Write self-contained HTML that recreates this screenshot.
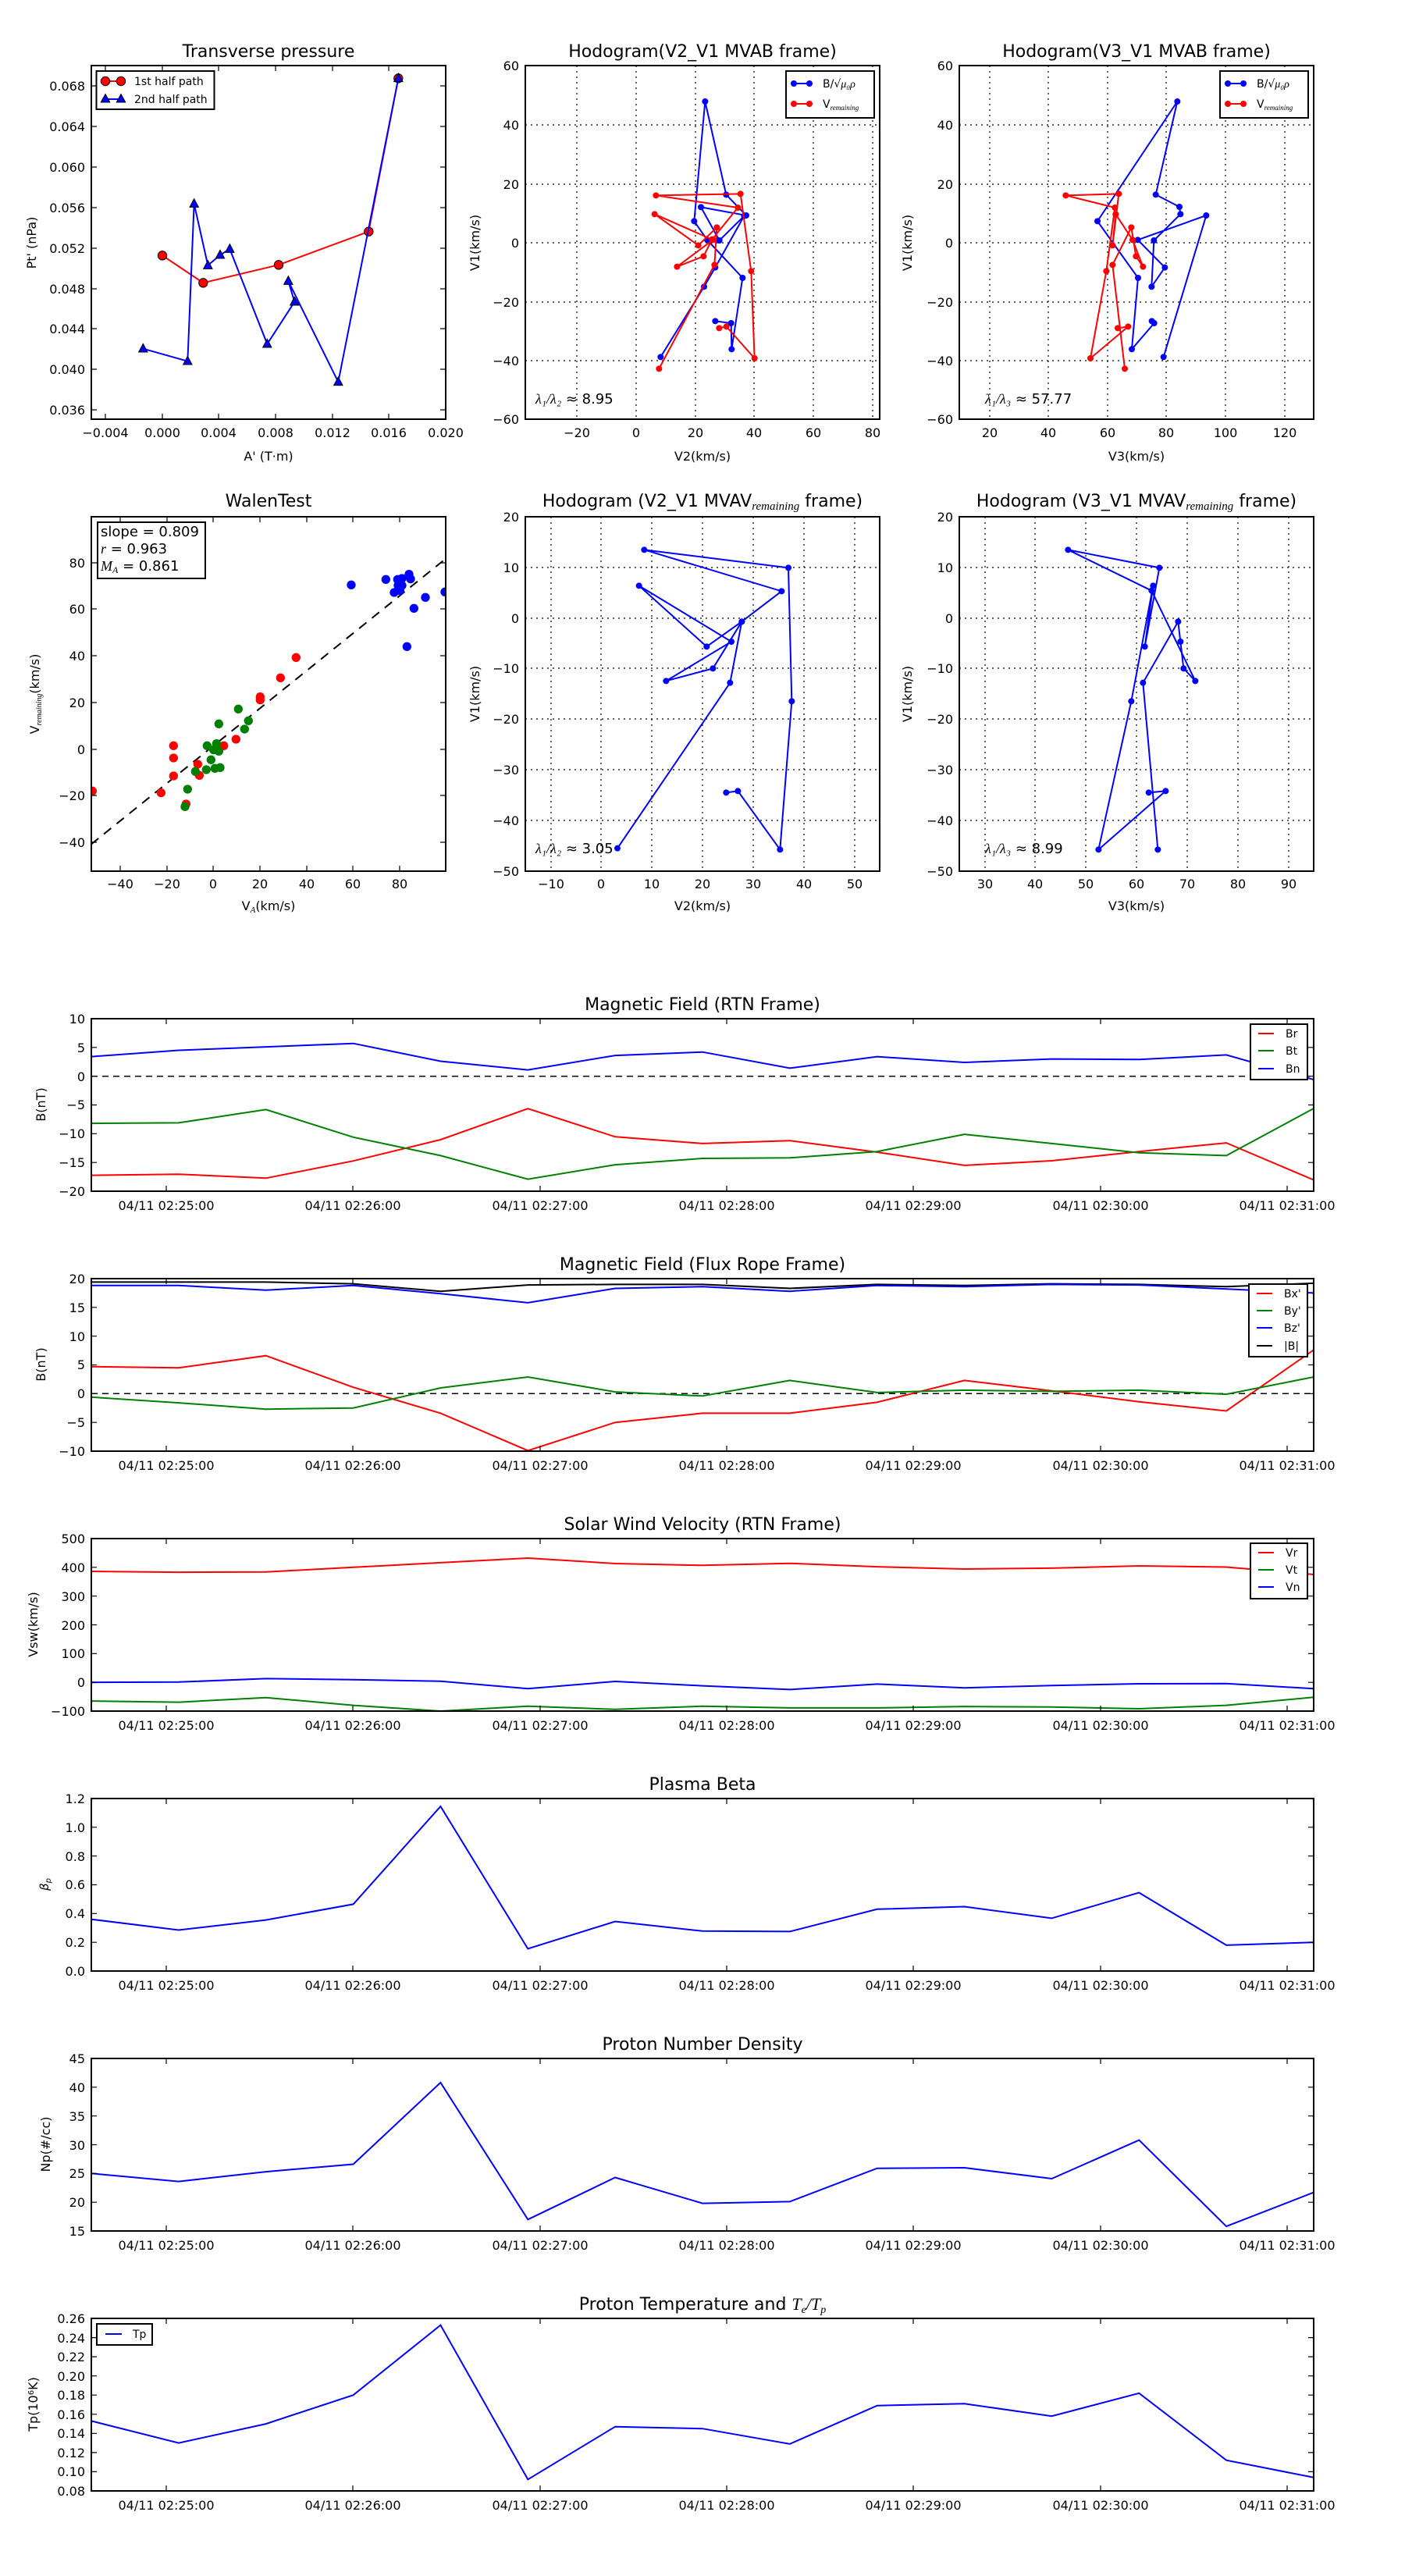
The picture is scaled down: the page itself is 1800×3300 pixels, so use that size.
<!DOCTYPE html>
<html><head><meta charset="utf-8"><style>
html,body{margin:0;padding:0;background:#fff}
svg{display:block}
text{font-family:"DejaVu Sans","Liberation Sans",sans-serif;fill:#000}
.t{font-size:22px;text-anchor:middle}
.k{font-size:16px}
.kx{font-size:16px;text-anchor:middle}
.ky{font-size:16px;text-anchor:end}
.lg{font-size:14px}
.ax{fill:none;stroke:#000;stroke-width:2}
.tk{stroke:#000;stroke-width:1.2}
.gr{stroke:#000;stroke-width:1.2;stroke-dasharray:2,5}
</style></head><body>
<svg width="1800" height="3300" viewBox="0 0 1800 3300" xmlns="http://www.w3.org/2000/svg">
<defs>
<marker id="cb" viewBox="-15 -15 30 30" markerWidth="30" markerHeight="30" markerUnits="userSpaceOnUse"><circle r="12" fill="#0000ff"/></marker>
<marker id="cr" viewBox="-15 -15 30 30" markerWidth="30" markerHeight="30" markerUnits="userSpaceOnUse"><circle r="12" fill="#ff0000"/></marker>
<marker id="bc" viewBox="-22 -22 44 44" markerWidth="44" markerHeight="44" markerUnits="userSpaceOnUse"><circle r="17" fill="#ff0000" stroke="#000" stroke-width="3"/></marker>
<marker id="bt" viewBox="-22 -22 44 44" markerWidth="44" markerHeight="44" markerUnits="userSpaceOnUse"><path d="M0,-19 L17,13 L-17,13 Z" fill="#0000ff" stroke="#000" stroke-width="3"/></marker>
<clipPath id="c1"><rect x="50" y="72" width="1362" height="1360"/></clipPath>
<clipPath id="c2"><rect x="38" y="72" width="1362" height="1360"/></clipPath>
<clipPath id="c3"><rect x="26" y="72" width="1362" height="1360"/></clipPath>
<clipPath id="c4"><rect x="50" y="66" width="1362" height="1362"/></clipPath>
<clipPath id="c5"><rect x="38" y="66" width="1362" height="1362"/></clipPath>
<clipPath id="c6"><rect x="26" y="66" width="1362" height="1362"/></clipPath>
<clipPath id="ts"><rect x="117" y="0" width="1566" height="3300"/></clipPath>
</defs>

<!-- ============ TL Transverse pressure ============ -->
<text class="t" x="344" y="73">Transverse pressure</text>
<g transform="translate(100,60) scale(0.33333)" clip-path="url(#c1)">
<polyline fill="none" stroke="#ff0000" stroke-width="6" marker-start="url(#bc)" marker-mid="url(#bc)" marker-end="url(#bc)" points="324,802 481,907 771,838 1117,710 1231,121"/>
<polyline fill="none" stroke="#0000ff" stroke-width="6" marker-start="url(#bt)" marker-mid="url(#bt)" marker-end="url(#bt)" points="250,1160 421,1208 446,603 499,840 546,800 583,777 727,1142 832,980 808,900 1000,1288 1231,121"/>
</g>
<rect class="ax" x="117" y="84" width="454" height="453"/>
<g class="tk">
<path d="M117,110h7M117,162h7M117,214h7M117,266h7M117,318h7M117,370h7M117,421h7M117,473h7M117,525h7"/>
<path d="M571,110h-7M571,162h-7M571,214h-7M571,266h-7M571,318h-7M571,370h-7M571,421h-7M571,473h-7M571,525h-7"/>
<path d="M135,537v-7M208,537v-7M280,537v-7M353,537v-7M426,537v-7M498,537v-7M571,537v-7"/>
<path d="M135,84v7M208,84v7M280,84v7M353,84v7M426,84v7M498,84v7"/>
</g>
<g class="ky"><text x="109" y="116">0.068</text><text x="109" y="168">0.064</text><text x="109" y="220">0.060</text><text x="109" y="272">0.056</text><text x="109" y="324">0.052</text><text x="109" y="376">0.048</text><text x="109" y="427">0.044</text><text x="109" y="479">0.040</text><text x="109" y="531">0.036</text></g>
<g class="kx"><text x="135" y="560">−0.004</text><text x="208" y="560">0.000</text><text x="280" y="560">0.004</text><text x="353" y="560">0.008</text><text x="426" y="560">0.012</text><text x="498" y="560">0.016</text><text x="571" y="560">0.020</text></g>
<text class="kx" x="344" y="590">A' (T·m)</text>
<text class="k" transform="translate(46,311) rotate(-90)" text-anchor="middle">Pt' (nPa)</text>
<rect x="123.5" y="91" width="151" height="49" fill="#fff" stroke="#000" stroke-width="2"/>
<line x1="135" y1="104" x2="155" y2="104" stroke="#ff0000" stroke-width="2"/>
<circle cx="135" cy="104" r="5.7" fill="#ff0000" stroke="#000"/><circle cx="155" cy="104" r="5.7" fill="#ff0000" stroke="#000"/>
<line x1="135" y1="127" x2="155" y2="127" stroke="#0000ff" stroke-width="2"/>
<path d="M135,120.5l5.7,10.5h-11.4z M155,120.5l5.7,10.5h-11.4z" fill="#0000ff" stroke="#000"/>
<text class="lg" x="172" y="109">1st half path</text>
<text class="lg" x="172" y="132">2nd half path</text>

<!-- ============ TM Hodogram V2_V1 ============ -->
<text class="t" x="900" y="73">Hodogram(V2_V1 MVAB frame)</text>
<g class="gr"><path d="M739,84V537M815,84V537M891,84V537M966,84V537M1042,84V537M1118,84V537M673,160H1127M673,236H1127M673,311H1127M673,387H1127M673,462H1127"/></g>
<g transform="translate(660,60) scale(0.33333)" clip-path="url(#c2)">
<polyline fill="none" stroke="#0000ff" stroke-width="6" marker-start="url(#cb)" marker-mid="url(#cb)" marker-end="url(#cb)" points="769,1054 830,1062 832,1162 874,888 738,742 688,670 730,210 811,568 888,648 714,616 785,744 880,650 769,848 726,922 559,1192"/>
<polyline fill="none" stroke="#ff0000" stroke-width="6" marker-start="url(#cr)" marker-mid="url(#cr)" marker-end="url(#cr)" points="553,1237 766,838 775,694 704,763 536,643 760,742 622,845 724,805 757,740 856,618 541,571 866,565 907,862 920,1197 812,1075 784,1081"/>
</g>
<rect class="ax" x="673" y="84" width="454" height="453"/>
<g class="ky"><text x="665" y="90">60</text><text x="665" y="166">40</text><text x="665" y="242">20</text><text x="665" y="317">0</text><text x="665" y="393">−20</text><text x="665" y="468">−40</text><text x="665" y="543">−60</text></g>
<g class="kx"><text x="739" y="560">−20</text><text x="815" y="560">0</text><text x="891" y="560">20</text><text x="966" y="560">40</text><text x="1042" y="560">60</text><text x="1118" y="560">80</text></g>
<text class="kx" x="900" y="590">V2(km/s)</text>
<text class="k" transform="translate(614,311) rotate(-90)" text-anchor="middle">V1(km/s)</text>
<rect x="1007" y="91" width="113" height="60" fill="#fff" stroke="#000" stroke-width="2"/>
<line x1="1017" y1="107" x2="1037" y2="107" stroke="#0000ff" stroke-width="2"/><circle cx="1017" cy="107" r="4" fill="#0000ff"/><circle cx="1037" cy="107" r="4" fill="#0000ff"/>
<line x1="1017" y1="133" x2="1037" y2="133" stroke="#ff0000" stroke-width="2"/><circle cx="1017" cy="133" r="4" fill="#ff0000"/><circle cx="1037" cy="133" r="4" fill="#ff0000"/>
<text class="lg" x="1054" y="112">B/√<tspan font-style="italic" font-family="Liberation Serif">μ₀ρ</tspan></text>
<text class="lg" x="1054" y="138">V<tspan font-size="9" font-style="italic" font-family="Liberation Serif" dy="3">remaining</tspan></text>
<text x="686" y="517" font-size="18"><tspan font-style="italic" font-family="Liberation Serif">λ₁/λ₂</tspan> ≈ 8.95</text>

<!-- ============ TR Hodogram V3_V1 ============ -->
<text class="t" x="1456" y="73">Hodogram(V3_V1 MVAB frame)</text>
<g class="gr"><path d="M1268,84V537M1343,84V537M1419,84V537M1494,84V537M1570,84V537M1646,84V537M1229,160H1683M1229,236H1683M1229,311H1683M1229,387H1683M1229,462H1683"/></g>
<g transform="translate(1220,60) scale(0.33333)" clip-path="url(#c3)">
<polyline fill="none" stroke="#0000ff" stroke-width="6" marker-start="url(#cb)" marker-mid="url(#cb)" marker-end="url(#cb)" points="767,1054 776,1062 690,1162 714,888 558,670 865,210 782,568 873,615 877,643 775,744 766,922 817,848 713,742 976,648 812,1192"/>
<polyline fill="none" stroke="#ff0000" stroke-width="6" marker-start="url(#cr)" marker-mid="url(#cr)" marker-end="url(#cr)" points="636,1081 676,1075 531,1197 592,862 625,618 436,571 640,565 616,763 628,643 693,742 733,845 706,805 688,694 616,838 663,1237"/>
</g>
<rect class="ax" x="1229" y="84" width="454" height="453"/>
<g class="ky"><text x="1221" y="90">60</text><text x="1221" y="166">40</text><text x="1221" y="242">20</text><text x="1221" y="317">0</text><text x="1221" y="393">−20</text><text x="1221" y="468">−40</text><text x="1221" y="543">−60</text></g>
<g class="kx"><text x="1268" y="560">20</text><text x="1343" y="560">40</text><text x="1419" y="560">60</text><text x="1494" y="560">80</text><text x="1570" y="560">100</text><text x="1646" y="560">120</text></g>
<text class="kx" x="1456" y="590">V3(km/s)</text>
<text class="k" transform="translate(1168,311) rotate(-90)" text-anchor="middle">V1(km/s)</text>
<rect x="1563" y="91" width="113" height="60" fill="#fff" stroke="#000" stroke-width="2"/>
<line x1="1573" y1="107" x2="1593" y2="107" stroke="#0000ff" stroke-width="2"/><circle cx="1573" cy="107" r="4" fill="#0000ff"/><circle cx="1593" cy="107" r="4" fill="#0000ff"/>
<line x1="1573" y1="133" x2="1593" y2="133" stroke="#ff0000" stroke-width="2"/><circle cx="1573" cy="133" r="4" fill="#ff0000"/><circle cx="1593" cy="133" r="4" fill="#ff0000"/>
<text class="lg" x="1610" y="112">B/√<tspan font-style="italic" font-family="Liberation Serif">μ₀ρ</tspan></text>
<text class="lg" x="1610" y="138">V<tspan font-size="9" font-style="italic" font-family="Liberation Serif" dy="3">remaining</tspan></text>
<text x="1262" y="517" font-size="18"><tspan font-style="italic" font-family="Liberation Serif">λ₁/λ₃</tspan> ≈ 57.77</text>

<!-- ============ ML WalenTest ============ -->
<text class="t" x="344" y="649">WalenTest</text>
<g transform="translate(100,640) scale(0.33333)" clip-path="url(#c4)">
<line x1="50" y1="1325" x2="1412" y2="228" stroke="#000" stroke-width="6" stroke-dasharray="36,27"/>
<g fill="#ff0000"><circle cx="55" cy="1120" r="17"/><circle cx="319" cy="1127" r="17"/><circle cx="367" cy="946" r="17"/><circle cx="367" cy="993" r="17"/><circle cx="367" cy="1062" r="17"/><circle cx="415" cy="1170" r="17"/><circle cx="460" cy="1017" r="17"/><circle cx="466" cy="1060" r="17"/><circle cx="560" cy="946" r="17"/><circle cx="607" cy="921" r="17"/><circle cx="700" cy="758" r="17"/><circle cx="700" cy="770" r="17"/><circle cx="778" cy="685" r="17"/><circle cx="838" cy="607" r="17"/></g>
<g fill="#008000"><circle cx="411" cy="1180" r="17"/><circle cx="421" cy="1113" r="17"/><circle cx="451" cy="1045" r="17"/><circle cx="493" cy="1038" r="17"/><circle cx="496" cy="946" r="17"/><circle cx="511" cy="1000" r="17"/><circle cx="526" cy="1033" r="17"/><circle cx="532" cy="938" r="17"/><circle cx="521" cy="962" r="17"/><circle cx="541" cy="967" r="17"/><circle cx="546" cy="1030" r="17"/><circle cx="541" cy="862" r="17"/><circle cx="616" cy="805" r="17"/><circle cx="640" cy="882" r="17"/><circle cx="655" cy="850" r="17"/></g>
<g fill="#0000ff"><circle cx="1050" cy="328" r="17"/><circle cx="1183" cy="307" r="17"/><circle cx="1228" cy="307" r="17"/><circle cx="1245" cy="303" r="17"/><circle cx="1272" cy="287" r="17"/><circle cx="1278" cy="305" r="17"/><circle cx="1230" cy="330" r="17"/><circle cx="1245" cy="330" r="17"/><circle cx="1215" cy="357" r="17"/><circle cx="1237" cy="350" r="17"/><circle cx="1335" cy="376" r="17"/><circle cx="1291" cy="418" r="17"/><circle cx="1264" cy="565" r="17"/><circle cx="1410" cy="355" r="17"/></g>
</g>
<rect class="ax" x="117" y="662" width="454" height="454"/>
<g class="tk">
<path d="M117,721h7M117,780h7M117,840h7M117,900h7M117,960h7M117,1019h7M117,1079h7"/>
<path d="M571,721h-7M571,780h-7M571,840h-7M571,900h-7M571,960h-7M571,1019h-7M571,1079h-7"/>
<path d="M154,1116v-7M214,1116v-7M273,1116v-7M333,1116v-7M393,1116v-7M452,1116v-7M512,1116v-7"/>
<path d="M154,662v7M214,662v7M273,662v7M333,662v7M393,662v7M452,662v7M512,662v7"/>
</g>
<g class="ky"><text x="109" y="727">80</text><text x="109" y="786">60</text><text x="109" y="846">40</text><text x="109" y="906">20</text><text x="109" y="966">0</text><text x="109" y="1025">−20</text><text x="109" y="1085">−40</text></g>
<g class="kx"><text x="154" y="1138">−40</text><text x="214" y="1138">−20</text><text x="273" y="1138">0</text><text x="333" y="1138">20</text><text x="393" y="1138">40</text><text x="452" y="1138">60</text><text x="512" y="1138">80</text></g>
<text class="kx" x="344" y="1166">V<tspan font-size="11" font-style="italic" font-family="Liberation Serif" dy="3">A</tspan><tspan dy="-3">(km/s)</tspan></text>
<text class="k" transform="translate(50,889) rotate(-90)" text-anchor="middle">V<tspan font-size="10" font-style="italic" font-family="Liberation Serif" dy="3">remaining</tspan><tspan dy="-3">(km/s)</tspan></text>
<rect x="125" y="669" width="138" height="72" fill="#fff" stroke="#000" stroke-width="2"/>
<text x="129" y="687" font-size="18">slope = 0.809</text>
<text x="129" y="709" font-size="18"><tspan font-style="italic" font-family="Liberation Serif">r</tspan> = 0.963</text>
<text x="129" y="731" font-size="18"><tspan font-style="italic" font-family="Liberation Serif">M<tspan font-size="12" dy="3">A</tspan></tspan><tspan dy="-3"> = 0.861</tspan></text>

<!-- ============ MM Hodogram MVAV V2 ============ -->
<text class="t" x="900" y="649">Hodogram (V2_V1 MVAV<tspan font-size="15" font-style="italic" font-family="Liberation Serif" dy="4">remaining</tspan><tspan dy="-4"> frame)</tspan></text>
<g class="gr"><path d="M706,662V1116M770,662V1116M835,662V1116M900,662V1116M965,662V1116M1030,662V1116M1095,662V1116M673,727H1127M673,792H1127M673,856H1127M673,921H1127M673,986H1127M673,1051H1127"/></g>
<g transform="translate(660,640) scale(0.33333)" clip-path="url(#c5)">
<polyline fill="none" stroke="#0000ff" stroke-width="6" marker-start="url(#cb)" marker-mid="url(#cb)" marker-end="url(#cb)" points="811,1126 856,1120 1018,1345 1063,775 1050,262 496,193 1024,352 871,469 736,565 476,331 831,546 580,697 760,649 871,469 826,704 393,1340"/>
</g>
<rect class="ax" x="673" y="662" width="454" height="454"/>
<g class="ky"><text x="665" y="668">20</text><text x="665" y="733">10</text><text x="665" y="798">0</text><text x="665" y="862">−10</text><text x="665" y="927">−20</text><text x="665" y="992">−30</text><text x="665" y="1057">−40</text><text x="665" y="1122">−50</text></g>
<g class="kx"><text x="706" y="1138">−10</text><text x="770" y="1138">0</text><text x="835" y="1138">10</text><text x="900" y="1138">20</text><text x="965" y="1138">30</text><text x="1030" y="1138">40</text><text x="1095" y="1138">50</text></g>
<text class="kx" x="900" y="1166">V2(km/s)</text>
<text class="k" transform="translate(614,889) rotate(-90)" text-anchor="middle">V1(km/s)</text>
<text x="686" y="1093" font-size="18"><tspan font-style="italic" font-family="Liberation Serif">λ₁/λ₂</tspan> ≈ 3.05</text>

<!-- ============ MR Hodogram MVAV V3 ============ -->
<text class="t" x="1456" y="649">Hodogram (V3_V1 MVAV<tspan font-size="15" font-style="italic" font-family="Liberation Serif" dy="4">remaining</tspan><tspan dy="-4"> frame)</tspan></text>
<g class="gr"><path d="M1262,662V1116M1326,662V1116M1391,662V1116M1456,662V1116M1521,662V1116M1586,662V1116M1651,662V1116M1229,727H1683M1229,792H1683M1229,856H1683M1229,921H1683M1229,986H1683M1229,1051H1683"/></g>
<g transform="translate(1220,640) scale(0.33333)" clip-path="url(#c6)">
<polyline fill="none" stroke="#0000ff" stroke-width="6" marker-start="url(#cb)" marker-mid="url(#cb)" marker-end="url(#cb)" points="755,1126 820,1120 562,1345 688,775 772,331 740,565 796,262 445,193 766,350 934,697 889,649 877,546 868,469 733,704 790,1345"/>
</g>
<rect class="ax" x="1229" y="662" width="454" height="454"/>
<g class="ky"><text x="1221" y="668">20</text><text x="1221" y="733">10</text><text x="1221" y="798">0</text><text x="1221" y="862">−10</text><text x="1221" y="927">−20</text><text x="1221" y="992">−30</text><text x="1221" y="1057">−40</text><text x="1221" y="1122">−50</text></g>
<g class="kx"><text x="1262" y="1138">30</text><text x="1326" y="1138">40</text><text x="1391" y="1138">50</text><text x="1456" y="1138">60</text><text x="1521" y="1138">70</text><text x="1586" y="1138">80</text><text x="1651" y="1138">90</text></g>
<text class="kx" x="1456" y="1166">V3(km/s)</text>
<text class="k" transform="translate(1168,889) rotate(-90)" text-anchor="middle">V1(km/s)</text>
<text x="1262" y="1093" font-size="18"><tspan font-style="italic" font-family="Liberation Serif">λ₁/λ₃</tspan> ≈ 8.99</text>

<!-- ============ Time series common ticks helper is inline ============ -->
<!-- RTN -->
<text class="t" x="900" y="1294">Magnetic Field (RTN Frame)</text>
<g clip-path="url(#ts)" fill="none" stroke-width="2">
<line x1="117" y1="1378.7" x2="1683" y2="1378.7" stroke="#000" stroke-width="1.5" stroke-dasharray="8,6"/>
<polyline stroke="#ff0000" points="117,1505.6 228.9,1504.2 340.7,1509.3 452.6,1487.2 564.4,1460 676.3,1420.2 788.1,1456.3 900,1464.9 1011.9,1461.2 1123.7,1476 1235.6,1492.9 1347.4,1487 1459.3,1475.2 1571.1,1464.1 1683,1511.6"/>
<polyline stroke="#008000" points="117,1439.1 228.9,1438.4 340.7,1421.4 452.6,1456.8 564.4,1480.4 676.3,1510.6 788.1,1492.1 900,1484 1011.9,1483.3 1123.7,1475.2 1235.6,1453.1 1347.4,1464.9 1459.3,1476.7 1571.1,1480.4 1683,1420"/>
<polyline stroke="#0000ff" points="117,1353.6 228.9,1345.5 340.7,1341.1 452.6,1336.7 564.4,1359.5 676.3,1370.6 788.1,1352.1 900,1347.7 1011.9,1368.4 1123.7,1353.6 1235.6,1361 1347.4,1356.6 1459.3,1357.3 1571.1,1351.4 1683,1383.1"/>
</g>
<rect class="ax" x="117" y="1305" width="1566" height="221"/>
<g class="tk"><path d="M117,1341.8h7M117,1378.7h7M117,1415.5h7M117,1452.3h7M117,1489.2h7M1683,1341.8h-7M1683,1378.7h-7M1683,1415.5h-7M1683,1452.3h-7M1683,1489.2h-7M213,1526v-7M452,1526v-7M692,1526v-7M931,1526v-7M1170,1526v-7M1410,1526v-7M1649,1526v-7M213,1305v7M452,1305v7M692,1305v7M931,1305v7M1170,1305v7M1410,1305v7M1649,1305v7"/></g>
<g class="ky"><text x="109" y="1311">10</text><text x="109" y="1348">5</text><text x="109" y="1385">0</text><text x="109" y="1421">−5</text><text x="109" y="1458">−10</text><text x="109" y="1495">−15</text><text x="109" y="1532">−20</text></g>
<g class="kx"><text x="213" y="1550">04/11 02:25:00</text><text x="452" y="1550">04/11 02:26:00</text><text x="692" y="1550">04/11 02:27:00</text><text x="931" y="1550">04/11 02:28:00</text><text x="1170" y="1550">04/11 02:29:00</text><text x="1410" y="1550">04/11 02:30:00</text><text x="1649" y="1550">04/11 02:31:00</text></g>
<text class="k" transform="translate(58,1415) rotate(-90)" text-anchor="middle">B(nT)</text>
<rect x="1602" y="1312" width="73" height="71" fill="#fff" stroke="#000" stroke-width="2"/>
<line x1="1612" y1="1324" x2="1632" y2="1324" stroke="#ff0000" stroke-width="2"/><line x1="1612" y1="1346" x2="1632" y2="1346" stroke="#008000" stroke-width="2"/><line x1="1612" y1="1369" x2="1632" y2="1369" stroke="#0000ff" stroke-width="2"/>
<text class="lg" x="1647" y="1329">Br</text><text class="lg" x="1647" y="1351">Bt</text><text class="lg" x="1647" y="1374">Bn</text>

<!-- Flux rope -->
<text class="t" x="900" y="1627">Magnetic Field (Flux Rope Frame)</text>
<g clip-path="url(#ts)" fill="none" stroke-width="2">
<line x1="117" y1="1785.3" x2="1683" y2="1785.3" stroke="#000" stroke-width="1.5" stroke-dasharray="8,6"/>
<polyline stroke="#000" points="117,1642.4 228.9,1642.4 340.7,1642.4 452.6,1644.6 564.4,1654.2 676.3,1646.1 788.1,1645.4 900,1645.4 1011.9,1650.5 1123.7,1645.4 1235.6,1646.8 1347.4,1644.6 1459.3,1645.4 1571.1,1648.3 1683,1643.9"/>
<polyline stroke="#0000ff" points="117,1646.8 228.9,1646.8 340.7,1652.7 452.6,1646.8 564.4,1657.2 676.3,1668.9 788.1,1650.5 900,1648.3 1011.9,1654.2 1123.7,1646.8 1235.6,1648.3 1347.4,1645.4 1459.3,1646.1 1571.1,1651.3 1683,1656.4"/>
<polyline stroke="#ff0000" points="117,1750.7 228.9,1752.2 340.7,1736.7 452.6,1777.2 564.4,1810.4 676.3,1858.3 788.1,1822.2 900,1810.4 1011.9,1810.4 1123.7,1796.4 1235.6,1768.4 1347.4,1781.7 1459.3,1795.7 1571.1,1807.5 1683,1729.3"/>
<polyline stroke="#008000" points="117,1789.8 228.9,1797.1 340.7,1805.2 452.6,1803.7 564.4,1778 676.3,1764 788.1,1783.1 900,1788.3 1011.9,1768.4 1123.7,1783.9 1235.6,1780.9 1347.4,1782.4 1459.3,1780.9 1571.1,1786.1 1683,1764"/>
</g>
<rect class="ax" x="117" y="1638" width="1566" height="221"/>
<g class="tk"><path d="M117,1674.8h7M117,1711.7h7M117,1748.5h7M117,1785.3h7M117,1822.2h7M1683,1674.8h-7M1683,1711.7h-7M1683,1748.5h-7M1683,1785.3h-7M1683,1822.2h-7M213,1859v-7M452,1859v-7M692,1859v-7M931,1859v-7M1170,1859v-7M1410,1859v-7M1649,1859v-7M213,1638v7M452,1638v7M692,1638v7M931,1638v7M1170,1638v7M1410,1638v7M1649,1638v7"/></g>
<g class="ky"><text x="109" y="1644">20</text><text x="109" y="1681">15</text><text x="109" y="1718">10</text><text x="109" y="1754">5</text><text x="109" y="1791">0</text><text x="109" y="1828">−5</text><text x="109" y="1865">−10</text></g>
<g class="kx"><text x="213" y="1883">04/11 02:25:00</text><text x="452" y="1883">04/11 02:26:00</text><text x="692" y="1883">04/11 02:27:00</text><text x="931" y="1883">04/11 02:28:00</text><text x="1170" y="1883">04/11 02:29:00</text><text x="1410" y="1883">04/11 02:30:00</text><text x="1649" y="1883">04/11 02:31:00</text></g>
<text class="k" transform="translate(58,1748) rotate(-90)" text-anchor="middle">B(nT)</text>
<rect x="1600" y="1645" width="75" height="93" fill="#fff" stroke="#000" stroke-width="2"/>
<line x1="1610" y1="1657" x2="1630" y2="1657" stroke="#ff0000" stroke-width="2"/><line x1="1610" y1="1679" x2="1630" y2="1679" stroke="#008000" stroke-width="2"/><line x1="1610" y1="1701" x2="1630" y2="1701" stroke="#0000ff" stroke-width="2"/><line x1="1610" y1="1724" x2="1630" y2="1724" stroke="#000" stroke-width="2"/>
<text class="lg" x="1645" y="1662">Bx'</text><text class="lg" x="1645" y="1684">By'</text><text class="lg" x="1645" y="1706">Bz'</text><text class="lg" x="1645" y="1729">|B|</text>

<!-- Velocity -->
<text class="t" x="900" y="1960">Solar Wind Velocity (RTN Frame)</text>
<g clip-path="url(#ts)" fill="none" stroke-width="2">
<polyline stroke="#ff0000" points="117,2013 228.9,2014.1 340.7,2013.7 452.6,2007.8 564.4,2001.9 676.3,1996 788.1,2003 900,2005.3 1011.9,2002.7 1123.7,2007.1 1235.6,2010 1347.4,2008.9 1459.3,2006 1571.1,2007.5 1683,2017"/>
<polyline stroke="#0000ff" points="117,2155.2 228.9,2154.8 340.7,2150.4 452.6,2151.8 564.4,2153.7 676.3,2163.3 788.1,2154 900,2159.6 1011.9,2164.4 1123.7,2157.4 1235.6,2162.2 1347.4,2159.3 1459.3,2157 1571.1,2156.7 1683,2163.3"/>
<polyline stroke="#008000" points="117,2179.1 228.9,2180.6 340.7,2174.7 452.6,2184.6 564.4,2192 676.3,2185.7 788.1,2189.8 900,2185.7 1011.9,2187.9 1123.7,2187.9 1235.6,2186.1 1347.4,2186.8 1459.3,2189 1571.1,2184.6 1683,2174.3"/>
</g>
<rect class="ax" x="117" y="1971" width="1566" height="221"/>
<g class="tk"><path d="M117,2007.8h7M117,2044.7h7M117,2081.5h7M117,2118.3h7M117,2155.2h7M1683,2007.8h-7M1683,2044.7h-7M1683,2081.5h-7M1683,2118.3h-7M1683,2155.2h-7M213,2192v-7M452,2192v-7M692,2192v-7M931,2192v-7M1170,2192v-7M1410,2192v-7M1649,2192v-7M213,1971v7M452,1971v7M692,1971v7M931,1971v7M1170,1971v7M1410,1971v7M1649,1971v7"/></g>
<g class="ky"><text x="109" y="1977">500</text><text x="109" y="2014">400</text><text x="109" y="2051">300</text><text x="109" y="2088">200</text><text x="109" y="2124">100</text><text x="109" y="2161">0</text><text x="109" y="2198">−100</text></g>
<g class="kx"><text x="213" y="2216">04/11 02:25:00</text><text x="452" y="2216">04/11 02:26:00</text><text x="692" y="2216">04/11 02:27:00</text><text x="931" y="2216">04/11 02:28:00</text><text x="1170" y="2216">04/11 02:29:00</text><text x="1410" y="2216">04/11 02:30:00</text><text x="1649" y="2216">04/11 02:31:00</text></g>
<text class="k" transform="translate(48,2081) rotate(-90)" text-anchor="middle">Vsw(km/s)</text>
<rect x="1602" y="1977" width="73" height="71" fill="#fff" stroke="#000" stroke-width="2"/>
<line x1="1612" y1="1989" x2="1632" y2="1989" stroke="#ff0000" stroke-width="2"/><line x1="1612" y1="2011" x2="1632" y2="2011" stroke="#008000" stroke-width="2"/><line x1="1612" y1="2033" x2="1632" y2="2033" stroke="#0000ff" stroke-width="2"/>
<text class="lg" x="1647" y="1994">Vr</text><text class="lg" x="1647" y="2016">Vt</text><text class="lg" x="1647" y="2038">Vn</text>

<!-- Beta -->
<text class="t" x="900" y="2293">Plasma Beta</text>
<g clip-path="url(#ts)" fill="none" stroke-width="2">
<polyline stroke="#0000ff" points="117,2458.7 228.9,2472.5 340.7,2459.6 452.6,2439.4 564.4,2314.1 676.3,2496.5 788.1,2461.5 900,2473.8 1011.9,2474.4 1123.7,2445.8 1235.6,2442.5 1347.4,2457.4 1459.3,2424.6 1571.1,2491.9 1683,2488.2"/>
</g>
<rect class="ax" x="117" y="2304" width="1566" height="221"/>
<g class="tk"><path d="M117,2340.8h7M117,2377.7h7M117,2414.5h7M117,2451.3h7M117,2488.2h7M1683,2340.8h-7M1683,2377.7h-7M1683,2414.5h-7M1683,2451.3h-7M1683,2488.2h-7M213,2525v-7M452,2525v-7M692,2525v-7M931,2525v-7M1170,2525v-7M1410,2525v-7M1649,2525v-7M213,2304v7M452,2304v7M692,2304v7M931,2304v7M1170,2304v7M1410,2304v7M1649,2304v7"/></g>
<g class="ky"><text x="109" y="2310">1.2</text><text x="109" y="2347">1.0</text><text x="109" y="2384">0.8</text><text x="109" y="2420">0.6</text><text x="109" y="2457">0.4</text><text x="109" y="2494">0.2</text><text x="109" y="2531">0.0</text></g>
<g class="kx"><text x="213" y="2549">04/11 02:25:00</text><text x="452" y="2549">04/11 02:26:00</text><text x="692" y="2549">04/11 02:27:00</text><text x="931" y="2549">04/11 02:28:00</text><text x="1170" y="2549">04/11 02:29:00</text><text x="1410" y="2549">04/11 02:30:00</text><text x="1649" y="2549">04/11 02:31:00</text></g>
<text transform="translate(62,2414) rotate(-90)" text-anchor="middle" font-size="15" font-style="italic" font-family="Liberation Serif">β<tspan font-size="10" dy="3">p</tspan></text>

<!-- Density -->
<text class="t" x="900" y="2626">Proton Number Density</text>
<g clip-path="url(#ts)" fill="none" stroke-width="2">
<polyline stroke="#0000ff" points="117,2784.3 228.9,2794.6 340.7,2782.1 452.6,2772.5 564.4,2667.9 676.3,2843.3 788.1,2789.5 900,2822.6 1011.9,2820.4 1123.7,2777.7 1235.6,2777 1347.4,2791 1459.3,2741.6 1571.1,2852.1 1683,2808.6"/>
</g>
<rect class="ax" x="117" y="2637" width="1566" height="221"/>
<g class="tk"><path d="M117,2673.8h7M117,2710.7h7M117,2747.5h7M117,2784.3h7M117,2821.2h7M1683,2673.8h-7M1683,2710.7h-7M1683,2747.5h-7M1683,2784.3h-7M1683,2821.2h-7M213,2858v-7M452,2858v-7M692,2858v-7M931,2858v-7M1170,2858v-7M1410,2858v-7M1649,2858v-7M213,2637v7M452,2637v7M692,2637v7M931,2637v7M1170,2637v7M1410,2637v7M1649,2637v7"/></g>
<g class="ky"><text x="109" y="2643">45</text><text x="109" y="2680">40</text><text x="109" y="2717">35</text><text x="109" y="2754">30</text><text x="109" y="2790">25</text><text x="109" y="2827">20</text><text x="109" y="2864">15</text></g>
<g class="kx"><text x="213" y="2882">04/11 02:25:00</text><text x="452" y="2882">04/11 02:26:00</text><text x="692" y="2882">04/11 02:27:00</text><text x="931" y="2882">04/11 02:28:00</text><text x="1170" y="2882">04/11 02:29:00</text><text x="1410" y="2882">04/11 02:30:00</text><text x="1649" y="2882">04/11 02:31:00</text></g>
<text class="k" transform="translate(64,2747) rotate(-90)" text-anchor="middle">Np(#/cc)</text>

<!-- Temperature -->
<text class="t" x="900" y="2959">Proton Temperature and <tspan font-style="italic" font-family="Liberation Serif">T<tspan font-size="14" dy="4">e</tspan><tspan dy="-4">/T</tspan><tspan font-size="14" dy="4">p</tspan></tspan></text>
<g clip-path="url(#ts)" fill="none" stroke-width="2">
<polyline stroke="#0000ff" points="117,3101.4 228.9,3129.6 340.7,3105.1 452.6,3068.2 564.4,2978.6 676.3,3176.3 788.1,3108.7 900,3111.2 1011.9,3130.8 1123.7,3081.7 1235.6,3079.3 1347.4,3095.2 1459.3,3065.8 1571.1,3151.7 1683,3173.8"/>
</g>
<rect class="ax" x="117" y="2970" width="1566" height="221"/>
<g class="tk"><path d="M117,2994.6h7M117,3019.1h7M117,3043.7h7M117,3068.2h7M117,3092.8h7M117,3117.3h7M117,3141.9h7M117,3166.4h7M1683,2994.6h-7M1683,3019.1h-7M1683,3043.7h-7M1683,3068.2h-7M1683,3092.8h-7M1683,3117.3h-7M1683,3141.9h-7M1683,3166.4h-7M213,3191v-7M452,3191v-7M692,3191v-7M931,3191v-7M1170,3191v-7M1410,3191v-7M1649,3191v-7M213,2970v7M452,2970v7M692,2970v7M931,2970v7M1170,2970v7M1410,2970v7M1649,2970v7"/></g>
<g class="ky"><text x="109" y="2976">0.26</text><text x="109" y="3001">0.24</text><text x="109" y="3025">0.22</text><text x="109" y="3050">0.20</text><text x="109" y="3074">0.18</text><text x="109" y="3099">0.16</text><text x="109" y="3123">0.14</text><text x="109" y="3148">0.12</text><text x="109" y="3172">0.10</text><text x="109" y="3197">0.08</text></g>
<g class="kx"><text x="213" y="3215">04/11 02:25:00</text><text x="452" y="3215">04/11 02:26:00</text><text x="692" y="3215">04/11 02:27:00</text><text x="931" y="3215">04/11 02:28:00</text><text x="1170" y="3215">04/11 02:29:00</text><text x="1410" y="3215">04/11 02:30:00</text><text x="1649" y="3215">04/11 02:31:00</text></g>
<text class="k" transform="translate(48,3080) rotate(-90)" text-anchor="middle">Tp(10<tspan font-size="10" dy="-5">6</tspan><tspan dy="5">K)</tspan></text>
<rect x="124" y="2977" width="71" height="27" fill="#fff" stroke="#000" stroke-width="2"/>
<line x1="135" y1="2990" x2="156" y2="2990" stroke="#0000ff" stroke-width="2"/>
<text class="lg" x="170" y="2995">Tp</text>
</svg>
</body></html>
